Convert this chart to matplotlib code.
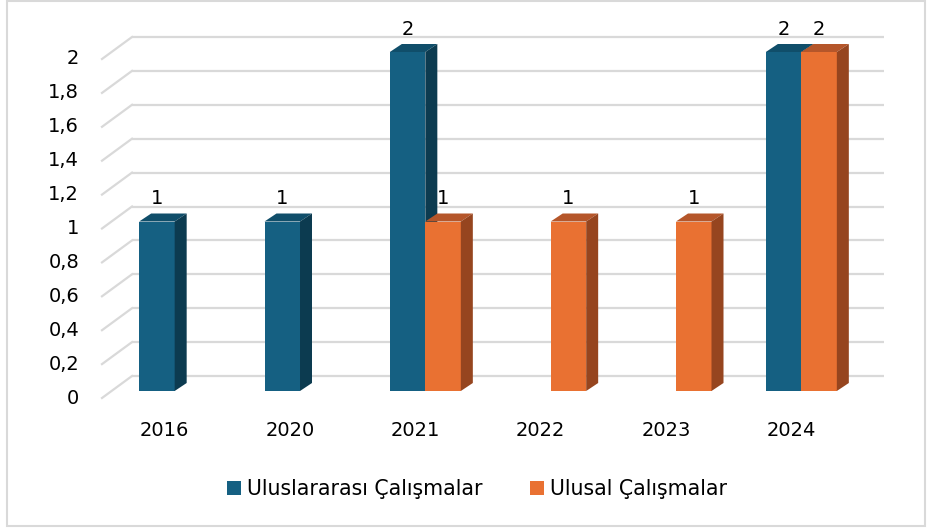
import matplotlib
matplotlib.use("Agg")
import matplotlib.pyplot as plt
from matplotlib.patches import Polygon, Rectangle, Patch

categories = ["2016", "2020", "2021", "2022", "2023", "2024"]
series_names = ["Uluslararası Çalışmalar", "Ulusal Çalışmalar"]
intl = [1, 1, 2, 0, 0, 2]
natl = [0, 0, 1, 1, 1, 2]
yticks = [0, 0.2, 0.4, 0.6, 0.8, 1.0, 1.2, 1.4, 1.6, 1.8, 2.0]

front_cols = ["#156082", "#E97132"]
top_cols = ["#104E6A", "#B5562A"]
side_cols = ["#0C3B50", "#96451F"]
grid_col = "#D9D9D9"

plt.rcParams['font.family'] = ['DejaVu Sans']
FS = 14
LFS = 14.8

W, H = 927, 529
fig = plt.figure(figsize=(W / 100, H / 100), dpi=100)
ax_l, ax_r, ax_b, ax_t = 112, 864, 391, 52  # pixel extent of bar plane
ax = fig.add_axes([ax_l / W, (H - ax_b) / H, (ax_r - ax_l) / W, (ax_b - ax_t) / H])
n = len(categories)
ax.set_xlim(-0.5, n - 0.5)
ax.set_ylim(0, 2)
ax.axis("off")

xpx = (ax_r - ax_l) / n     # pixels per x unit
ypx = (ax_b - ax_t) / 2.0   # pixels per y unit


def px(dx, dy):
    return dx / xpx, dy / ypx


fx, fy = px(-10, -7)   # front plane offset
bx, by = px(20, 15)    # back plane offset
dx, dy = px(12, 8)     # bar depth

# gridlines
for v in yticks:
    ax.plot([-0.5 + bx, n - 0.5 + bx], [v + by, v + by], color=grid_col, lw=1.6,
            clip_on=False, zorder=1, solid_capstyle="butt")
    ax.plot([-0.5 + fx, -0.5 + bx], [v + fy, v + by], color=grid_col, lw=1.6,
            clip_on=False, zorder=1)
    lab = ("%g" % v).replace(".", ",")
    ax.annotate(lab, xy=(-0.5 + fx, v + fy), xytext=(-23, 0), textcoords="offset pixels",
                ha="right", va="center", fontsize=FS, color="#000000", annotation_clip=False)

for i, c in enumerate(categories):
    ax.annotate(c, xy=(i + fx, fy), xytext=(0, -32), textcoords="offset pixels",
                ha="center", va="center", fontsize=FS, color="#000000", annotation_clip=False)

w = 35.5 / xpx
for i in range(n):
    for s, vals in enumerate([intl, natl]):
        v = vals[i]
        if v <= 0:
            continue
        x0 = i - w + s * w
        x1 = x0 + w
        ax.bar(x0, v, width=w, align="edge", color=front_cols[s], zorder=3 + s, lw=0)
        ax.add_patch(Polygon([(x0, v), (x1, v), (x1 + dx, v + dy), (x0 + dx, v + dy)],
                             closed=True, color=top_cols[s], lw=0, zorder=3 + s, clip_on=False))
        ax.add_patch(Polygon([(x1, 0), (x1 + dx, dy), (x1 + dx, v + dy), (x1, v)],
                             closed=True, color=side_cols[s], lw=0, zorder=3 + s, clip_on=False))
        ax.annotate(str(v), xy=(x0 + w / 2, v), xytext=(0, 17), textcoords="offset pixels",
                    ha="center", va="baseline", fontsize=FS, color="#000000",
                    annotation_clip=False, zorder=10)

handles = [Patch(facecolor=front_cols[0], edgecolor="none"),
           Patch(facecolor=front_cols[1], edgecolor="none")]
fig.legend(handles, series_names, loc="center", bbox_to_anchor=(477 / W, 1 - 489 / H), ncol=2,
           frameon=False, fontsize=LFS, handlelength=0.68, handleheight=0.68,
           handletextpad=0.3, columnspacing=2.3)

fig.patches.append(Rectangle((7 / W, 3 / H), (925 - 7) / W, (528 - 3) / H, transform=fig.transFigure,
                             fill=False, edgecolor=grid_col, lw=1.5))

fig.savefig("out.png", dpi=100)
